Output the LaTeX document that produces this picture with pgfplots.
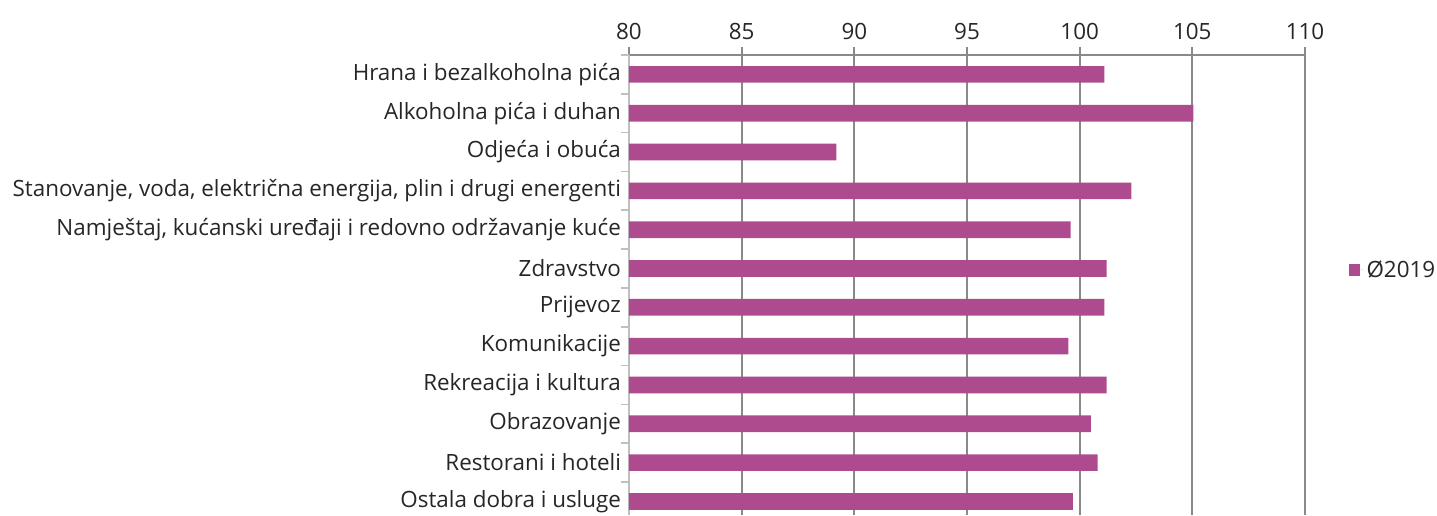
\documentclass[border=0pt]{standalone}
\usepackage{pgfplots}
\pgfplotsset{compat=1.18}
\usepackage{fontspec}
\setmainfont{Open Sans}
\definecolor{barc}{HTML}{AE4B8F}
\definecolor{gridc}{HTML}{898989}
\definecolor{axc}{HTML}{BFBFBF}
\definecolor{txt}{HTML}{262626}
\begin{document}
\begin{tikzpicture}[x=1pt,y=1pt]
\begin{axis}[
  name=ax, at={(0,0)}, anchor=south west,
  scale only axis, width=507pt, height=345pt,
  xbar, bar width=12.5pt,
  xmin=80, xmax=110, ymin=-0.35, ymax=11.5,
  xtick={80,85,...,110},
  xticklabel pos=top,
  axis x line*=top, axis y line*=left,
  x axis line style={gridc, line width=1.5pt},
  y axis line style={axc, line width=1.2pt},
  xmajorgrids, major grid style={gridc, line width=1.5pt},
  major x tick style={gridc, line width=1.5pt},
  xtick align=center, major tick length=12pt,
  ytick={0,...,11},
  yticklabels={Ostala dobra i usluge, Restorani i hoteli, Obrazovanje, Rekreacija i kultura, Komunikacije, Prijevoz, Zdravstvo, {Namještaj, kućanski uređaji i redovno održavanje kuće}, {Stanovanje, voda, električna energija, plin i drugi energenti}, Odjeća i obuća, Alkoholna pića i duhan, Hrana i bezalkoholna pića},
  major y tick style={draw=none},
  minor ytick={0.5,1.5,...,11.5},
  minor y tick style={axc, line width=1.2pt},
  minor tick length=6pt, ytick align=outside,
  ticklabel style={font=\fontsize{16.8}{20}\selectfont, text=txt},
  /pgf/number format/assume math mode=true,
  yticklabel style={xshift=9.5pt},
  xticklabel style={yshift=2pt},
  legend style={at={(1.131,0.533)}, anchor=center, draw=none, fill=none, font=\fontsize{16.8}{20}\selectfont, text=txt},
  legend image code/.code={\fill[barc] (0pt,-4.5pt) rectangle (8pt,4.5pt); \path (8pt,0) -- (11pt,0);},
  clip=true,
]
\addplot[fill=barc, draw=none] coordinates {
(99.7,0) (100.8,1) (100.5,2) (101.2,3) (99.5,4) (101.1,5) (101.2,6) (99.6,7) (102.3,8) (89.2,9) (105.05,10) (101.1,11)
};
\legend{Ø2019}
\end{axis}
\pgfresetboundingbox
\path[use as bounding box] (-471.75pt,0) rectangle (606pt,386.25pt);
\end{tikzpicture}
\end{document}
